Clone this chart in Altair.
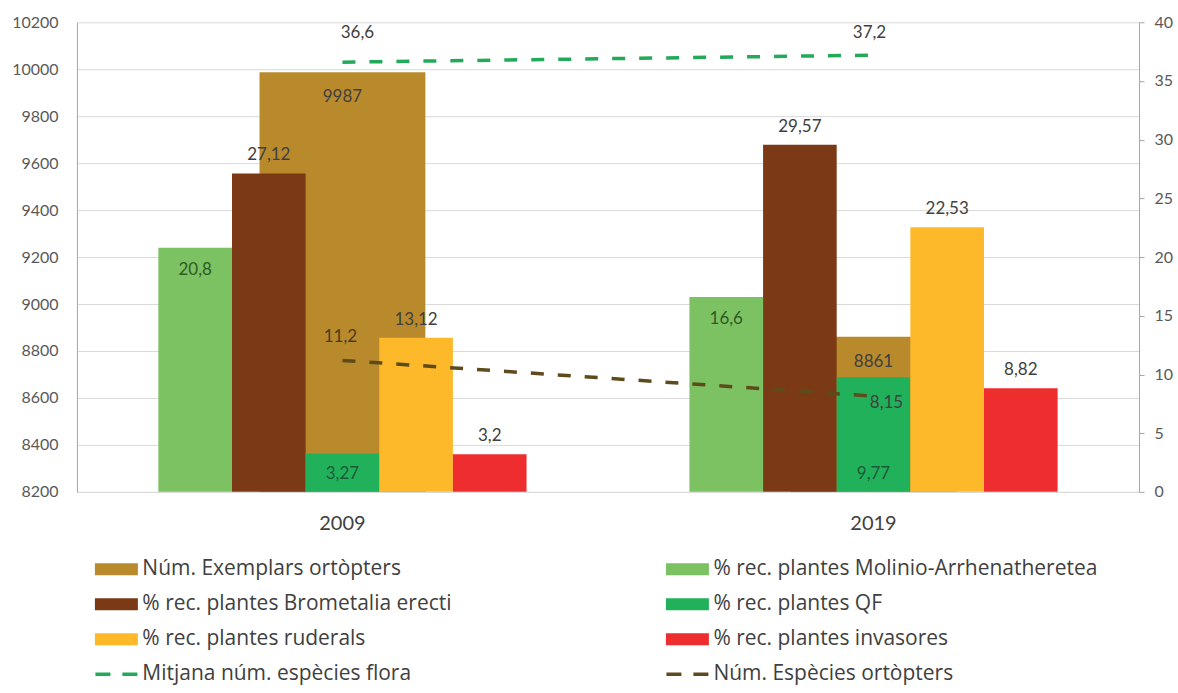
import altair as alt
import pandas as pd

# ---------------- data ----------------
years = ["2009", "2019"]
exemplars = [9987, 8861]                      # left axis
molinio = [20.8, 16.6]                        # right axis (%)
brometalia = [27.12, 29.57]
qf = [3.27, 9.77]
ruderals = [13.12, 22.53]
invasores = [3.2, 8.82]
flora = [36.6, 37.2]                          # line, right axis
ortopters = [11.2, 8.15]                      # line, right axis

left_ticks = [8200, 8400, 8600, 8800, 9000, 9200, 9400, 9600, 9800, 10000, 10200]
right_ticks = [0, 5, 10, 15, 20, 25, 30, 35, 40]

name_exemplars = "Núm. Exemplars ortòpters"
bar_names = ["% rec. plantes Molinio-Arrhenatheretea", "% rec. plantes Brometalia erecti",
             "% rec. plantes QF", "% rec. plantes ruderals", "% rec. plantes invasores"]
line_names = ["Mitjana núm. espècies flora", "Núm. Espècies ortòpters"]

# ---------------- styles ----------------
FONT = "Lato"
LEG_FONT = "Open Sans"
col_exemplars = "#B98A2C"
bar_colors = ["#7DC262", "#7B3A15", "#22B15B", "#FDB92A", "#EE2E2E"]
line_colors = ["#22A95A", "#5E4B1C"]
bar_label_pos = ["inside", "above", "base", "above", "above"]
bar_label_colors = ["#2E5A26", "#404040", "#1B5A36", "#404040", "#404040"]


def fmt(v):
    s = ("%g" % v)
    return s.replace(".", ",")


bars_df = pd.DataFrame([
    {"year": y, "series": n, "value": vals[i], "label": fmt(vals[i]),
     "pos": bar_label_pos[k], "lcolor": bar_label_colors[k], "color": bar_colors[k]}
    for k, (n, vals) in enumerate(zip(bar_names, [molinio, brometalia, qf, ruderals, invasores]))
    for i, y in enumerate(years)
])
ex_df = pd.DataFrame({"year": years, "value": exemplars, "label": [fmt(v) for v in exemplars]})
lines_df = pd.DataFrame([
    {"year": y, "series": n, "value": vals[i], "label": fmt(vals[i]), "color": line_colors[k]}
    for k, (n, vals) in enumerate(zip(line_names, [flora, ortopters]))
    for i, y in enumerate(years)
])

x_axis = alt.Axis(title=None, labelAngle=0, labelFontSize=20, labelFont=FONT, labelColor="#404040",
                  ticks=False, domain=True, domainColor="#D9D9D9", labelPadding=22, grid=False)
X = alt.X("year:N", sort=years, scale=alt.Scale(paddingInner=0.3067, paddingOuter=0.1533), axis=x_axis)

left_axis = alt.Axis(values=left_ticks, grid=True, gridColor="#D9D9D9", domain=True,
                     domainColor="#A6A6A6", ticks=False, labelFontSize=16, labelFont=FONT,
                     labelColor="#595959", labelPadding=19, title=None, format="d",
                     minExtent=72, maxExtent=72)
right_axis = alt.Axis(orient="right", values=right_ticks, grid=False, domain=True,
                      domainColor="#A6A6A6", ticks=True, tickSize=5, tickColor="#A6A6A6",
                      labelFontSize=16, labelFont=FONT, labelColor="#595959", labelPadding=10,
                      title=None, minExtent=33, maxExtent=33)

RSCALE = alt.Scale(domain=[right_ticks[0], right_ticks[-1]], nice=False)
YL = alt.Y("value:Q", scale=alt.Scale(domain=[left_ticks[0], left_ticks[-1]], zero=False, nice=False),
           axis=left_axis)
YR = alt.Y("value:Q", scale=RSCALE, axis=right_axis)

# ---- left (primary) layer: wide bar for number of orthopters
ex_bar = alt.Chart(ex_df).mark_bar(width=166, color=col_exemplars).encode(
    x=X, y=YL, y2=alt.datum(left_ticks[0]))
ex_text = alt.Chart(ex_df).mark_text(dy=25, fontSize=17, font=FONT, color="#404040").encode(
    x=X, y=YL, text="label:N")
left = alt.layer(ex_bar, ex_text)

# ---- right (secondary) layer
XO = alt.XOffset("series:N", sort=bar_names, scale=alt.Scale(paddingOuter=0, paddingInner=0))
bars = alt.Chart(bars_df).mark_bar().encode(
    x=X, xOffset=XO, y=YR, color=alt.Color("color:N", scale=None))

t_above = alt.Chart(bars_df).transform_filter(alt.datum.pos == "above").mark_text(
    dy=-18, fontSize=17, font=FONT).encode(
    x=X, xOffset=XO, y=YR, text="label:N", color=alt.Color("lcolor:N", scale=None))
t_inside = alt.Chart(bars_df).transform_filter(alt.datum.pos == "inside").mark_text(
    dy=22, fontSize=17, font=FONT).encode(
    x=X, xOffset=XO, y=YR, text="label:N", color=alt.Color("lcolor:N", scale=None))
t_base = alt.Chart(bars_df).transform_filter(alt.datum.pos == "base").transform_calculate(
    zero="0").mark_text(dy=-18, fontSize=17, font=FONT).encode(
    x=X, xOffset=XO, y=alt.Y("zero:Q", scale=RSCALE, axis=right_axis),
    text="label:N", color=alt.Color("lcolor:N", scale=None))

lines = alt.Chart(lines_df).mark_line(strokeDash=[13, 14], strokeWidth=3.5).encode(
    x=X, y=YR, detail="series:N", color=alt.Color("color:N", scale=None))


def line_label(series, year, dx, dy, color="#404040"):
    return alt.Chart(lines_df).transform_filter(
        (alt.datum.series == series) & (alt.datum.year == year)).mark_text(
        dx=dx, dy=dy, fontSize=17, font=FONT, color=color).encode(x=X, y=YR, text="label:N")


ll = [line_label(line_names[0], "2009", 15, -29),
      line_label(line_names[0], "2019", -4, -22),
      line_label(line_names[1], "2009", -2, -23, "#4A3C1A"),
      line_label(line_names[1], "2019", 13, 7)]

right = alt.layer(bars, t_above, t_inside, t_base, lines, *ll)

main = alt.layer(left, right).resolve_scale(y="independent").properties(width=1063, height=470)

# ---------------- legend ----------------
legend_names = [name_exemplars, bar_names[1], bar_names[3], line_names[0],
                bar_names[0], bar_names[2], bar_names[4], line_names[1]]
legend_colors = [col_exemplars, bar_colors[1], bar_colors[3], line_colors[0],
                 bar_colors[0], bar_colors[2], bar_colors[4], line_colors[1]]
legend_kind = ["bar", "bar", "bar", "line", "bar", "bar", "bar", "line"]
leg_df = pd.DataFrame({
    "name": legend_names, "color": legend_colors, "kind": legend_kind,
    "col": [0, 0, 0, 0, 1, 1, 1, 1], "row": [0, 1, 2, 3, 0, 1, 2, 3]})

LX = alt.X("col:Q", scale=alt.Scale(domain=[-0.0691, 1.7909], nice=False, zero=False), axis=None)
LY = alt.Y("row:Q", scale=alt.Scale(domain=[-0.5, 3.0], reverse=True, nice=False, zero=False), axis=None)

rect_shape = "M-1,-0.28L1,-0.28L1,0.28L-1,0.28Z"
dash_shape = "M-1,0L-0.286,0M0.286,0L1,0"
leg_rect = alt.Chart(leg_df).transform_filter(alt.datum.kind == "bar").mark_point(
    shape=rect_shape, size=43 * 43, filled=True, opacity=1).encode(
    x=LX, y=LY, color=alt.Color("color:N", scale=None))
leg_line = alt.Chart(leg_df).transform_filter(alt.datum.kind == "line").mark_point(
    shape=dash_shape, size=42 * 42, filled=False, strokeWidth=3.5, opacity=1, dx=-2).encode(
    x=LX, y=LY, color=alt.Color("color:N", scale=None))
leg_text = alt.Chart(leg_df).mark_text(align="left", dx=26, fontSize=21, font=LEG_FONT,
                                       color="#404040").encode(x=LX, y=LY, text="name:N")
legend = alt.layer(leg_rect, leg_line, leg_text).properties(width=1063, height=122.5)

chart = alt.vconcat(main, legend, spacing=18).properties(
    padding={"left": 5, "top": 14, "right": 5, "bottom": 0}
).configure_view(stroke=None)

chart.save("out.html", embed_options={"renderer": "svg", "actions": False})
